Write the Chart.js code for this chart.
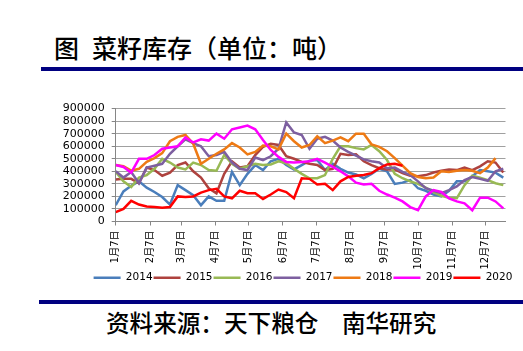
<!DOCTYPE html>
<html lang="zh">

<head>
    <meta charset="UTF-8">
    <title>菜籽库存</title>
    <script src="https://cdn.jsdelivr.net/npm/chart.js"></script>
    <style>
        body {
            margin: 0;
            width: 523px;
            height: 351px;
            overflow: hidden;
            background: #fff;
            position: relative;
            font-family: 'Noto Sans CJK SC', sans-serif;
        }

        #title {
            position: absolute;
            left: 54px;
            top: 35px;
            font-size: 25px;
            line-height: 25px;
            font-weight: 500;
            color: #000;
            white-space: nowrap;
        }

        #title .gap {
            display: inline-block;
            width: 13px;
        }

        .rule {
            position: absolute;
            height: 4px;
            background: #000080;
        }

        #source {
            position: absolute;
            left: 106px;
            top: 310px;
            font-size: 23.6px;
            line-height: 24px;
            font-weight: 500;
            color: #000;
            white-space: nowrap;
        }

        #chart-box {
            position: absolute;
            left: 0;
            top: 95px;
            width: 523px;
            height: 198px;
            overflow: hidden;
        }
    </style>
</head>

<body>
    <div id="title">图<span class="gap"></span>菜籽库存（单位：吨）</div>
    <div class="rule" style="left:41px; top:67px; width:482px;"></div>
    <div id="chart-box">
        <canvas id="stockChart" width="606" height="198"></canvas>
    </div>
    <div class="rule" style="left:39px; top:300px; width:484px;"></div>
    <div id="source">资料来源：天下粮仓　南华研究</div>

    <script>
        // weekly observations, days counted from 1月7日
        const weekDays = [0, 7, 14, 21, 28, 35, 42, 49, 56, 63, 70, 77, 84, 91, 98, 105, 112, 119, 126,
            133, 140, 147, 154, 161, 168, 175, 182, 189, 196, 203, 210, 217, 224, 231, 238, 245, 252,
            259, 266, 273, 280, 287, 294, 301, 308, 315, 322, 329, 336, 343, 350];

        // month tick positions (days from 1月7日) and their labels
        const monthDays = [0, 31, 59, 90, 120, 151, 181, 212, 243, 273, 304, 334];
        const monthLabels = ['1月7日', '2月7日', '3月7日', '4月7日', '5月7日', '6月7日',
            '7月7日', '8月7日', '9月7日', '10月7日', '11月7日', '12月7日'];

        const years = ['2014', '2015', '2016', '2017', '2018', '2019', '2020'];
        const colors = ['#4A7EBB', '#AE423E', '#98B954', '#7D5FA0', '#EE7A14', '#FF00FF', '#FF0000'];

        const stock2014 = [130000, 240000, 285000, 320000, 270000, 235000, 195000, 135000, 290000, 250000,
            210000, 130000, 200000, 165000, 165000, 395000, 290000, 380000, 450000, 410000,
            480000, 500000, 450000, 415000, 450000, 485000, 490000, 410000, 460000, 420000,
            390000, 375000, 345000, 380000, 420000, 400000, 300000, 310000, 330000, 265000,
            245000, 215000, 200000, 245000, 320000, 320000, 360000, 410000, 400000, 390000, 350000];
        const stock2015 = [335000, 340000, 340000, 305000, 430000, 410000, 365000, 390000, 450000, 470000,
            400000, 350000, 265000, 225000, 380000, 480000, 430000, 440000, 530000, 595000,
            620000, 610000, 520000, 500000, 475000, 460000, 450000, 410000, 420000, 540000,
            530000, 535000, 480000, 450000, 425000, 415000, 415000, 385000, 365000, 360000,
            370000, 390000, 405000, 415000, 410000, 430000, 410000, 440000, 480000, 470000, 390000];
        const stock2016 = [395000, 320000, 275000, 350000, 370000, 420000, 500000, 470000, 430000, 415000,
            470000, 450000, 410000, 405000, 530000, 460000, 420000, 440000, 460000, 450000,
            455000, 480000, 465000, 420000, 380000, 345000, 345000, 370000, 500000, 600000,
            600000, 585000, 575000, 610000, 560000, 490000, 380000, 345000, 320000, 300000,
            270000, 235000, 205000, 190000, 185000, 290000, 365000, 350000, 330000, 305000, 290000];
        const stock2017 = [400000, 350000, 395000, 305000, 430000, 445000, 460000, 540000, 600000, 655000,
            625000, 600000, 520000, 530000, 555000, 470000, 420000, 410000, 510000, 490000,
            520000, 580000, 790000, 710000, 690000, 580000, 660000, 675000, 645000, 590000,
            555000, 525000, 495000, 480000, 470000, 425000, 430000, 395000, 370000, 320000,
            265000, 245000, 225000, 250000, 280000, 330000, 355000, 340000, 325000, 400000, 420000];
        const stock2018 = [450000, 440000, 405000, 420000, 475000, 505000, 545000, 640000, 675000, 690000,
            620000, 460000, 500000, 540000, 575000, 625000, 590000, 535000, 555000, 605000,
            600000, 575000, 700000, 640000, 590000, 610000, 680000, 625000, 645000, 670000,
            640000, 700000, 700000, 615000, 595000, 560000, 505000, 445000, 385000, 355000,
            345000, 350000, 400000, 395000, 405000, 410000, 405000, 385000, 430000, 505000, null];
        const stock2019 = [450000, 435000, 390000, 500000, 500000, 530000, 580000, 590000, 600000, 670000,
            630000, 655000, 645000, 700000, 660000, 735000, 750000, 765000, 735000, 650000,
            570000, 515000, 475000, 470000, 475000, 480000, 500000, 470000, 435000, 400000,
            360000, 310000, 295000, 300000, 245000, 215000, 190000, 160000, 115000, 90000,
            200000, 250000, 235000, 185000, 160000, 145000, 90000, 190000, 190000, 160000, 105000];
        const stock2020 = [75000, 100000, 165000, 135000, 120000, 115000, 110000, 115000, 200000, 195000,
            200000, 230000, 250000, 260000, 200000, 185000, 245000, 225000, 225000, 180000,
            215000, 255000, 235000, 185000, 345000, 340000, 295000, 300000, 250000, 320000,
            355000, 365000, 370000, 385000, 425000, 455000, 460000, 445000];

        const series = [stock2014, stock2015, stock2016, stock2017, stock2018, stock2019, stock2020];

        const datasets = years.map((year, i) => ({
            label: year,
            data: series[i].map((v, k) => ({ x: weekDays[k], y: v })),
            borderColor: colors[i],
            backgroundColor: colors[i],
            borderWidth: 2.5,
            pointRadius: 0,
            tension: 0,
            fill: false,
            order: years.length - 1 - i   // later years on top, as in the original
        }));

        const ctx = document.getElementById('stockChart').getContext('2d');
        const stockChart = new Chart(ctx, {
            type: 'line',
            data: { datasets: datasets },
            options: {
                responsive: false,
                animation: false,
                devicePixelRatio: 1,
                layout: {
                    padding: { top: 11.7, left: 0, right: 0, bottom: 0 }
                },
                scales: {
                    x: {
                        type: 'linear',
                        min: 0,
                        max: 352,
                        afterBuildTicks: function (scale) {
                            scale.ticks = monthDays.map(v => ({ value: v }));
                        },
                        afterFit: function (scale) {
                            scale.height = 50;
                        },
                        grid: {
                            drawOnChartArea: false,
                            drawTicks: true,
                            tickLength: 4,
                            color: '#868686'
                        },
                        border: { color: '#868686' },
                        ticks: {
                            autoSkip: false,
                            maxRotation: 90,
                            minRotation: 90,
                            padding: 5,
                            color: '#000',
                            font: { size: 10, family: "'DejaVu Sans', 'Noto Sans CJK SC'" },
                            callback: function (value) {
                                const k = monthDays.indexOf(value);
                                return k >= 0 ? monthLabels[k] : '';
                            }
                        }
                    },
                    y: {
                        type: 'linear',
                        position: 'left',
                        min: 0,
                        max: 900000,
                        afterFit: function (scale) {
                            scale.width = 115.7;
                        },
                        grid: {
                            display: true,
                            drawOnChartArea: true,
                            color: '#A0A0A0',
                            lineWidth: 1,
                            tickLength: 4,
                            tickColor: '#868686'
                        },
                        border: { color: '#868686' },
                        ticks: {
                            autoSkip: false,
                            stepSize: 100000,
                            padding: 7,
                            color: '#000',
                            font: { size: 11, family: "'DejaVu Sans'" },
                            callback: function (value) {
                                return String(value);
                            }
                        }
                    },
                    // empty spacer on the right so the legend centres like the original
                    spacer: {
                        position: 'right',
                        display: true,
                        ticks: { display: false },
                        grid: { display: false },
                        border: { display: false },
                        afterFit: function (scale) {
                            scale.width = 100.5;
                        }
                    }
                },
                plugins: {
                    legend: {
                        position: 'bottom',
                        labels: {
                            usePointStyle: true,
                            pointStyle: 'line',
                            pointStyleWidth: 27,
                            padding: 1,
                            color: '#000',
                            font: { size: 10.5, family: "'DejaVu Sans'" },
                            sort: function (a, b) {
                                return a.datasetIndex - b.datasetIndex;
                            }
                        }
                    },
                    tooltip: { enabled: false }
                }
            }
        });
    </script>
</body>

</html>
